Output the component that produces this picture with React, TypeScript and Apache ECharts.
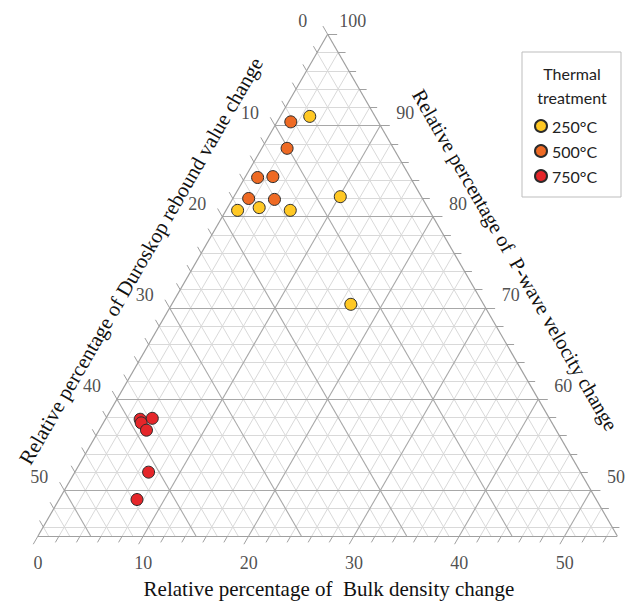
import React, { useEffect, useRef } from 'react';
import * as echarts from 'echarts';

// Ternary frame: P-wave from 45 to 100, Bulk and Duroskop from 0 to 55
const SPAN = 55;
const SQ = Math.sqrt(3) / 2;

const bulkTickValues = [0, 10, 20, 30, 40, 50];
const bulkTickLabels = ['0', '10', '20', '30', '40', '50'];
const duroTickValues = [0, 10, 20, 30, 40, 50];
const duroTickLabels = ['0', '10', '20', '30', '40', '50'];
const pwaveTickValues = [100, 90, 80, 70, 60, 50];
const pwaveTickLabels = ['100', '90', '80', '70', '60', '50'];

const seriesNames = ['250°C', '500°C', '750°C'];
const seriesColors = ['#FFC824', '#EE6A24', '#E5262A'];

// Relative percentages (Bulk density, Duroskop rebound, P-wave velocity)
const bulk250 = [2.8, 10.1, 1.1, 3.0, 6.1, 17.0];
const duro250 = [6.2, 7.7, 18.2, 16.0, 13.2, 12.6];
const pwave250 = [91.0, 82.2, 80.7, 81.0, 80.7, 70.4];

const bulk500 = [1.3, 2.4, 1.2, 2.6, 1.5, 4.0];
const duro500 = [8.3, 10.1, 14.5, 13.0, 16.5, 14.1];
const pwave500 = [90.4, 87.5, 84.3, 84.4, 82.0, 81.9];

const bulk750 = [3.3, 3.6, 4.4, 4.5, 7.0, 7.4];
const duro750 = [38.9, 39.0, 37.7, 38.9, 41.0, 43.6];
const pwave750 = [57.8, 57.4, 57.9, 56.6, 52.0, 49.0];

const seriesBulk = [bulk250, bulk500, bulk750];
const seriesDuro = [duro250, duro500, duro750];
const seriesPwave = [pwave250, pwave500, pwave750];

// ternary (bulk, duroskop) -> cartesian units of the frame
function toXY(b: number, d: number): [number, number] {
  return [SPAN / 2 + (b - d) / 2, SPAN * SQ - (b + d) * SQ];
}

function buildOption() {
  const minor: any[] = [];
  const major: any[] = [];
  const ticks: any[] = [];
  const MAJ = 0.9;
  const MIN = 0.7;
  for (let v = 0; v <= 54; v += 2) {
    const isMajor = v % 10 === 0;
    const target = isMajor ? major : minor;
    const len = isMajor ? MAJ : MIN;
    // constant Bulk (parallel to left edge), tick below bottom edge
    if (v > 0) target.push({ coords: [toXY(v, 0), toXY(v, SPAN - v)] });
    ticks.push({ coords: [toXY(v, SPAN - v), toXY(v, SPAN - v + len)] });
    // constant Duroskop (parallel to right edge), tick outside left edge
    if (v > 0) target.push({ coords: [toXY(0, v), toXY(SPAN - v, v)] });
    ticks.push({ coords: [toXY(0, v), toXY(-len, v)] });
    // constant P-wave (horizontal), tick outside right edge; s = 100 - P
    if (v > 0) target.push({ coords: [toXY(0, v), toXY(v, 0)] });
    ticks.push({ coords: [toXY(v, 0), toXY(v + len, -len)] });
  }
  const edges = [
    { coords: [toXY(0, 0), toXY(0, SPAN)] },
    { coords: [toXY(0, SPAN), toXY(SPAN, 0)] },
    { coords: [toXY(SPAN, 0), toXY(0, 0)] },
  ];

  const labelFont = { fontFamily: 'Liberation Serif', fontSize: 18, color: '#222' };
  const bottomLabels = bulkTickValues.map((b, i) => ({
    name: bulkTickLabels[i],
    value: toXY(b, SPAN - b),
  }));
  const leftLabels = duroTickValues.map((d, i) => ({
    name: duroTickLabels[i],
    value: toXY(0, d),
  }));
  const rightLabels = pwaveTickValues.map((p, i) => ({
    name: pwaveTickLabels[i],
    value: toXY(100 - p, 0),
  }));

  const labelSeries = (data: any[], offset: number[]) => ({
    type: 'scatter',
    data,
    symbolSize: 0.1,
    itemStyle: { color: 'transparent' },
    silent: true,
    clip: false,
    z: 5,
    label: {
      show: true,
      position: 'inside',
      offset,
      formatter: '{b}',
      ...labelFont,
    },
  });

  const lineSeries = (data: any[], color: string, width: number, z: number) => ({
    type: 'lines',
    coordinateSystem: 'cartesian2d',
    data,
    silent: true,
    clip: false,
    z,
    lineStyle: { color, width, opacity: 1, type: 'solid' },
  });

  const pointSeries = seriesNames.map((name, k) => ({
    type: 'scatter',
    name,
    clip: false,
    z: 10,
    symbol: 'circle',
    symbolSize: 12,
    itemStyle: { color: seriesColors[k], borderColor: '#2a2a2a', borderWidth: 1, opacity: 1 },
    data: seriesBulk[k].map((b, i) => {
      const d = seriesDuro[k][i];
      const p = seriesPwave[k][i];
      const sum = b + d + p;
      return toXY((b / sum) * 100, (d / sum) * 100);
    }),
  }));

  const titleFont = 'normal 21px "Liberation Serif"';

  return {
    animation: false,
    backgroundColor: '#ffffff',
    grid: { left: 38, right: 7.7, top: 34.3, bottom: 65, containLabel: false },
    xAxis: { type: 'value', min: 0, max: SPAN, show: false },
    yAxis: { type: 'value', min: 0, max: SPAN * SQ, show: false },
    legend: {
      orient: 'vertical',
      left: 529,
      top: 113,
      itemWidth: 12,
      itemHeight: 12,
      itemGap: 9,
      icon: 'circle',
      data: seriesNames,
      textStyle: { fontFamily: 'Lato', fontSize: 16, color: '#222', lineHeight: 16 },
    },
    graphic: [
      {
        type: 'rect',
        z: 0,
        shape: { x: 522, y: 52, width: 99, height: 145 },
        style: { fill: '#ffffff', stroke: '#bdbdbd', lineWidth: 1 },
      },
      {
        type: 'text',
        x: 572,
        y: 73,
        style: { text: 'Thermal', font: 'normal 16px Lato', fill: '#222', align: 'center', verticalAlign: 'middle' },
      },
      {
        type: 'text',
        x: 572,
        y: 97,
        style: { text: 'treatment', font: 'normal 16px Lato', fill: '#222', align: 'center', verticalAlign: 'middle' },
      },
      {
        type: 'text',
        x: 329,
        y: 589,
        style: { text: 'Relative percentage of  Bulk density change', font: titleFont, fill: '#111', align: 'center', verticalAlign: 'middle' },
      },
      {
        type: 'text',
        x: 141,
        y: 261,
        rotation: Math.PI / 3,
        style: { text: 'Relative percentage of Duroskop rebound value change', font: titleFont, fill: '#111', align: 'center', verticalAlign: 'middle' },
      },
      {
        type: 'text',
        x: 515,
        y: 260,
        rotation: -Math.PI / 3,
        style: { text: 'Relative percentage of  P-wave velocity change', font: 'normal 20.5px "Liberation Serif"', fill: '#111', align: 'center', verticalAlign: 'middle' },
      },
    ],
    series: [
      lineSeries(minor, '#d9d9d9', 1, 1),
      lineSeries(major, '#a8a8a8', 1.1, 2),
      lineSeries(ticks, '#a0a0a0', 1, 2),
      lineSeries(edges, '#a0a0a0', 1.2, 3),
      labelSeries(bottomLabels, [0, 27]),
      labelSeries(leftLabels, [-25, -13]),
      labelSeries(rightLabels, [25, -13]),
      ...pointSeries,
    ],
  };
}

export default function App() {
  const ref = useRef<HTMLDivElement>(null);
  useEffect(() => {
    if (!ref.current) return;
    const chart = echarts.init(ref.current, undefined, { renderer: 'svg' });
    chart.setOption(buildOption() as any);
    return () => chart.dispose();
  }, []);
  return (
    <div
      ref={ref}
      style={{ position: 'absolute', left: 0, top: 0, width: 625, height: 601, background: '#fff' }}
    />
  );
}
